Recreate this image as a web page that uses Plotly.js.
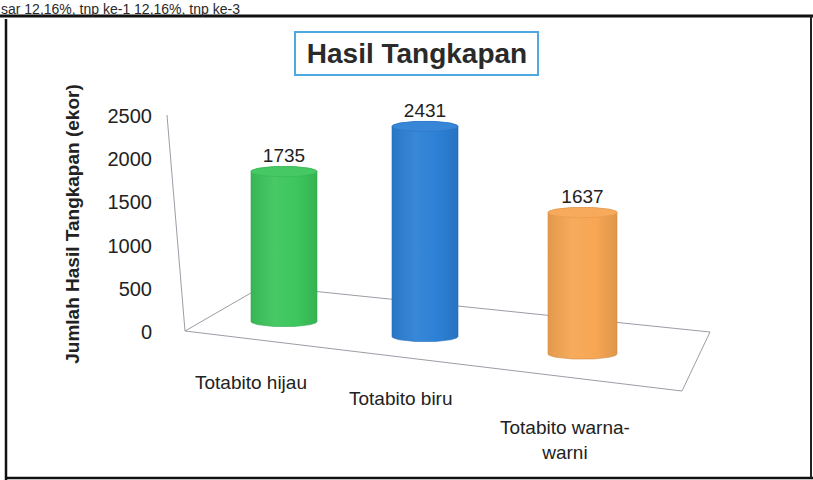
<!DOCTYPE html>
<html>
<head>
<meta charset="utf-8">
<script src="https://cdn.plot.ly/plotly-3.0.1.min.js"></script>
<style>html,body{margin:0;padding:0;background:#fff;}#chart{width:813px;height:480px;}</style>
</head>
<body>
<div id="chart"></div>
<script>
// ---- data ----
const categories = ['Totabito hijau', 'Totabito biru', 'Totabito warna-warni'];
const values = [1735, 2431, 1637];
const colors = ['#3cc65c', '#2c80d5', '#f7a653'];
const tickVals = [0, 500, 1000, 1500, 2000, 2500];
const tickText = ['0', '500', '1000', '1500', '2000', '2500'];
const titleText = 'Hasil Tangkapan';
const yTitleText = 'Jumlah Hasil Tangkapan (ekor)';
const clippedLineText = 'sar 12,16%, tnp ke-1 12,16%, tnp ke-3';

// ---- layout geometry (pixels) ----
const W = 813, H = 480;
const FONT = 'Liberation Sans, Arial, sans-serif';
const pxPerUnit = 216 / 2500;
const cyl = [
  {cx: 284, hw: 33, zero: 321.5, lab: [251, 382]},
  {cx: 425, hw: 33, zero: 336.5, lab: [401, 398]},
  {cx: 582.5, hw: 34.5, zero: 354, lab: [565, 440]}
];
const ry = 60; // ellipse half-height in data units
const R0 = -400, R1 = 2800; // cylinder axis range (room for the ellipses)
const fx = p => p / W, fy = p => 1 - p / H;

function shade(hex, f) {
  const n = parseInt(hex.slice(1), 16);
  let r = (n >> 16) & 255, g = (n >> 8) & 255, b = n & 255;
  const m = c => Math.max(0, Math.min(255, Math.round(f >= 0 ? c + (255 - c) * f : c * (1 + f))));
  return 'rgb(' + m(r) + ',' + m(g) + ',' + m(b) + ')';
}

const traces = [];
const layout = {
  width: W, height: H,
  margin: {l: 0, r: 0, t: 0, b: 0},
  paper_bgcolor: '#ffffff', plot_bgcolor: 'rgba(0,0,0,0)',
  showlegend: false,
  font: {family: FONT, color: '#222'},
  title: {
    text: '<b>' + titleText + '</b>',
    font: {family: FONT, size: 28, color: '#2a2a2a'},
    x: fx(417), xanchor: 'center', y: fy(53), yanchor: 'middle'
  },
  shapes: [], annotations: []
};

const N = 40;
values.forEach((v, i) => {
  const c = cyl[i];
  const ax = i + 1;
  const xs = [], ys = [];
  for (let k = 0; k <= N; k++) { const t = Math.PI - Math.PI * k / N; xs.push(c.hw * Math.cos(t)); ys.push(v + ry * Math.sin(t)); }
  for (let k = 0; k <= N; k++) { const t = -Math.PI * k / N; xs.push(c.hw * Math.cos(t)); ys.push(ry * Math.sin(t)); }
  xs.push(xs[0]); ys.push(ys[0]);
  const xa = 'x' + (ax === 1 ? '' : ax), ya = 'y' + (ax === 1 ? '' : ax);
  traces.push({
    type: 'scatter', mode: 'lines', x: xs, y: ys, xaxis: xa, yaxis: ya,
    fill: 'toself',
    fillgradient: {type: 'horizontal', colorscale: [[0, shade(colors[i], -0.08)], [0.35, shade(colors[i], 0.06)], [0.7, colors[i]], [1, shade(colors[i], -0.1)]]},
    line: {width: 0.6, color: shade(colors[i], -0.15)}, hoverinfo: 'skip', name: categories[i]
  });
  const ex = [], ey = [];
  for (let k = 0; k <= 2 * N; k++) { const t = 2 * Math.PI * k / (2 * N); ex.push(c.hw * Math.cos(t)); ey.push(v + ry * Math.sin(t)); }
  traces.push({
    type: 'scatter', mode: 'lines', x: ex, y: ey, xaxis: xa, yaxis: ya,
    fill: 'toself', fillcolor: shade(colors[i], 0.05),
    line: {width: 0.6, color: shade(colors[i], -0.08)}, hoverinfo: 'skip'
  });
  traces.push({
    type: 'scatter', mode: 'text', x: [0], y: [v + ry], xaxis: xa, yaxis: ya,
    text: [String(v)], textposition: 'top center',
    textfont: {family: FONT, size: 19, color: '#222'}, hoverinfo: 'skip', cliponaxis: false
  });
  const xName = 'xaxis' + (ax === 1 ? '' : ax), yName = 'yaxis' + (ax === 1 ? '' : ax);
  layout[xName] = {domain: [fx(c.cx - 50), fx(c.cx + 50)], range: [-50, 50], visible: false, fixedrange: true, anchor: ya};
  layout[yName] = {domain: [fy(c.zero - R0 * pxPerUnit), fy(c.zero - R1 * pxPerUnit)], range: [R0, R1], visible: false, fixedrange: true, anchor: xa};
  layout.annotations.push({
    xref: 'paper', yref: 'paper', x: fx(c.lab[0]), y: fy(c.lab[1]), xanchor: 'center', yanchor: 'middle',
    text: categories[i].replace('-', '-<br>'), showarrow: false, align: 'center',
    font: {family: FONT, size: 19, color: '#222'}
  });
});

traces.push({type: 'scatter', mode: 'markers', x: [0, 0], y: [0, 2500], xaxis: 'x4', yaxis: 'y4', marker: {opacity: 0}, hoverinfo: 'skip'});
layout.xaxis4 = {domain: [fx(153), fx(700)], range: [0, 1], visible: false, anchor: 'y4'};
layout.yaxis4 = {
  domain: [fy(332), fy(116)], range: [0, 2500], anchor: 'x4',
  tickvals: tickVals, ticktext: tickText, showgrid: false, zeroline: false, showline: false, ticks: '',
  tickfont: {family: FONT, size: 20, color: '#222'},
  title: {text: '<b>' + yTitleText + '</b>', font: {family: FONT, size: 19, color: '#222'}, standoff: 22}
};

const gray = '#9c9ca6';
layout.shapes.push(
  {type: 'path', xref: 'paper', yref: 'paper', layer: 'below',
   path: 'M ' + fx(185) + ' ' + fy(331) + ' L ' + fx(263) + ' ' + fy(286) + ' L ' + fx(710) + ' ' + fy(332) + ' L ' + fx(682) + ' ' + fy(391) + ' Z',
   line: {color: gray, width: 1}},
  {type: 'line', xref: 'paper', yref: 'paper', layer: 'below', x0: fx(167), y0: fy(115), x1: fx(185), y1: fy(331), line: {color: gray, width: 1}},
  {type: 'rect', xref: 'paper', yref: 'paper', layer: 'below', x0: fx(295), x1: fx(538), y0: fy(32), y1: fy(75), line: {color: '#4fa8e2', width: 2}},
  {type: 'line', xref: 'paper', yref: 'paper', x0: 0, x1: 1, y0: fy(16), y1: fy(16), line: {color: '#111', width: 3}},
  {type: 'line', xref: 'paper', yref: 'paper', x0: fx(6), x1: fx(6), y0: fy(19), y1: 0, line: {color: '#111', width: 2.5}},
  {type: 'line', xref: 'paper', yref: 'paper', x0: fx(6), x1: 1, y0: fy(478), y1: fy(478), line: {color: '#111', width: 2.5}},
  {type: 'line', xref: 'paper', yref: 'paper', x0: fx(811), x1: fx(811), y0: fy(16), y1: fy(478), line: {color: '#222', width: 2}}
);
layout.annotations.push({
  xref: 'paper', yref: 'paper', x: 0, y: 1, xanchor: 'left', yanchor: 'top', borderpad: 0,
  text: clippedLineText, showarrow: false, font: {family: FONT, size: 14, color: '#2a2a2a'}
});

Plotly.newPlot('chart', traces, layout, {staticPlot: true, displayModeBar: false});
</script>
</body>
</html>
